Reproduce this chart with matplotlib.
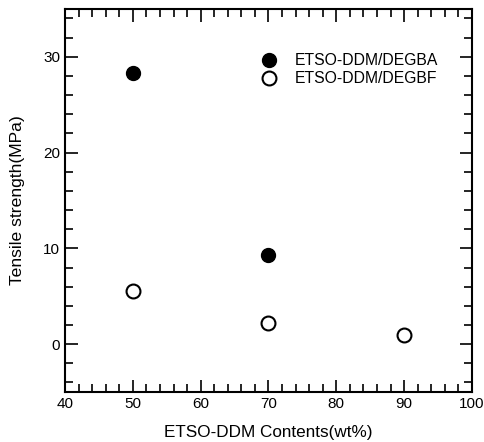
import matplotlib
matplotlib.use("Agg")
import matplotlib.pyplot as plt
from matplotlib.ticker import MultipleLocator

plt.rcParams['font.family'] = ['Liberation Sans', 'DejaVu Sans']

# data
degba_x = [50, 70]
degba_y = [28.3, 9.3]
degbf_x = [50, 70, 90]
degbf_y = [5.5, 2.2, 1.0]

fig = plt.figure(figsize=(4.85, 4.42), dpi=100)
ax = fig.add_axes([0.134, 0.113, 0.839, 0.867])

ax.plot(degba_x, degba_y, 'o', color='black', ms=10, label='ETSO-DDM/DEGBA')
ax.plot(degbf_x, degbf_y, 'o', mfc='white', mec='black', mew=1.5, ms=10,
        label='ETSO-DDM/DEGBF')

ax.set_xlim(40, 100)
ax.set_ylim(-5, 35)
ax.xaxis.set_major_locator(MultipleLocator(10))
ax.xaxis.set_minor_locator(MultipleLocator(2))
ax.yaxis.set_major_locator(MultipleLocator(10))
ax.yaxis.set_minor_locator(MultipleLocator(2))
ax.tick_params(which='both', direction='in', top=True, right=True,
               width=1.2, labelsize=11)
ax.tick_params(which='major', length=9)
ax.tick_params(which='minor', length=6)
for s in ax.spines.values():
    s.set_linewidth(1.5)

ax.set_xlabel('ETSO-DDM Contents(wt%)', fontsize=12.3, labelpad=10)
ax.set_ylabel('Tensile strength(MPa)', fontsize=12.6, labelpad=13)

ax.legend(loc='upper left', bbox_to_anchor=(0.428, 0.921), frameon=False,
          fontsize=11.3, handletextpad=0.65, labelspacing=0.2)

fig.savefig('out.png', dpi=100)
